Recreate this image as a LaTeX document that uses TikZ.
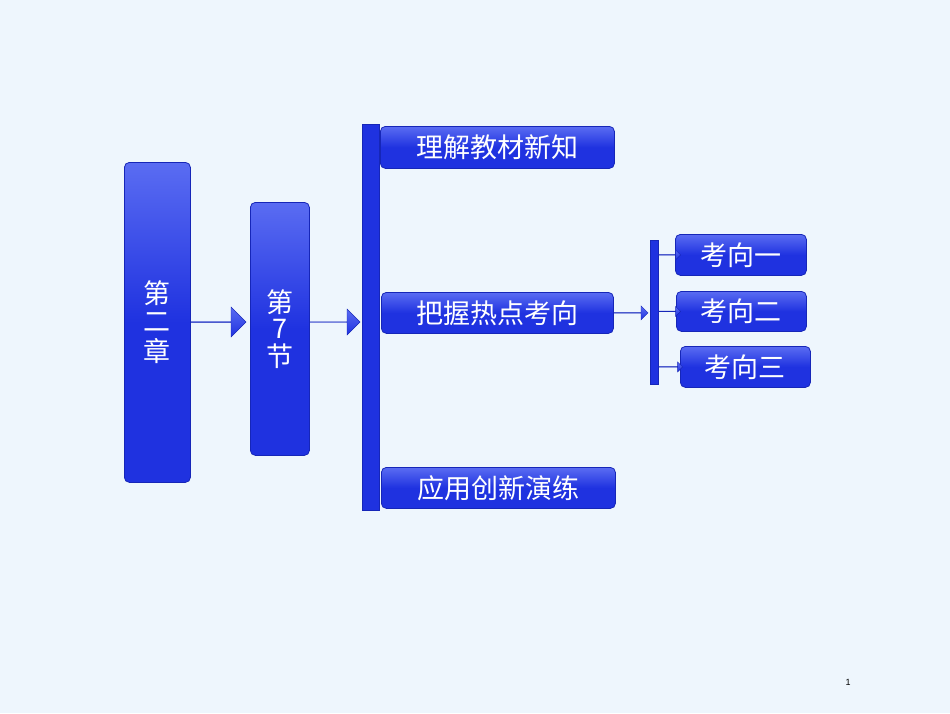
\documentclass[tikz,border=0pt]{standalone}
\usepackage{fontspec}
\setmainfont{Liberation Sans}
\newfontfamily\cjk{Noto Sans CJK SC}
\usetikzlibrary{shapes.arrows}
\definecolor{bg}{HTML}{EEF6FD}
\definecolor{bl}{HTML}{1F32E0}
\definecolor{bll}{HTML}{5A6CF2}
\definecolor{bld}{HTML}{1626B8}
\tikzset{x=1pt,y=-1pt,
 box/.style={draw=bld,line width=0.8pt,rounded corners=5pt,top color=bll,bottom color=bl,middle color=bl,text=white,font=\cjk\fontsize{27}{30}\selectfont,inner sep=0pt,anchor=north west},
 barbox/.style={draw=bld,fill=bl,inner sep=0pt,anchor=north west},
 blk/.style={single arrow,draw=bld,top color=bll,bottom color=bl,inner sep=0pt,single arrow head extend=5pt,anchor=tail,minimum height=#1}
}
\begin{document}
\begin{tikzpicture}
\useasboundingbox (0,0) rectangle (950,713);
\fill[bg] (0,0) rectangle (950,713);
\node[box,minimum width=66pt,minimum height=320pt] (c2) at (124,162) {\shortstack{第\\[4pt]二\\[4pt]章}};
\node[box,minimum width=59pt,minimum height=253pt] (s7) at (250,202) {\shortstack{第\\[2pt]7\\[2pt]节}};
\node[barbox,minimum width=17pt,minimum height=386pt] (bar) at (362,124) {};
\node[box,minimum width=234pt,minimum height=42pt] (t1) at (380,126) {理解教材新知};
\node[box,minimum width=232pt,minimum height=41pt] (t2) at (381,292) {把握热点考向};
\node[box,minimum width=234pt,minimum height=41pt] (t3) at (381,467) {应用创新演练};
\node[barbox,minimum width=8pt,minimum height=144pt] (bar2) at (650,240) {};
\node[box,minimum width=131pt,minimum height=41pt] (k1) at (675,234) {考向一};
\node[box,minimum width=130pt,minimum height=40pt] (k2) at (676,291) {考向二};
\node[box,minimum width=130pt,minimum height=41pt] (k3) at (680,346) {考向三};
\node[blk=55pt,minimum width=30pt,single arrow head extend=10pt] (a1) at (c2.east|-0,322) {};
\node[blk=50pt,minimum width=26pt,single arrow head extend=10pt] (a2) at (s7.east|-0,322) {};
\node[blk=34pt,minimum width=14pt] (a3) at (t2.east) {};
\node[blk=22pt,minimum width=10pt,single arrow head extend=4pt] (b1) at (bar2.east|-k1.west) {};
\node[blk=22pt,minimum width=10pt,single arrow head extend=4pt] (b2) at (bar2.east|-k2.west) {};
\node[blk=24pt,minimum width=10pt,single arrow head extend=4pt] (b3) at (bar2.east|-k3.west) {};
\node[font=\small] (pg) at (848,682) {1};
\end{tikzpicture}
\end{document}
